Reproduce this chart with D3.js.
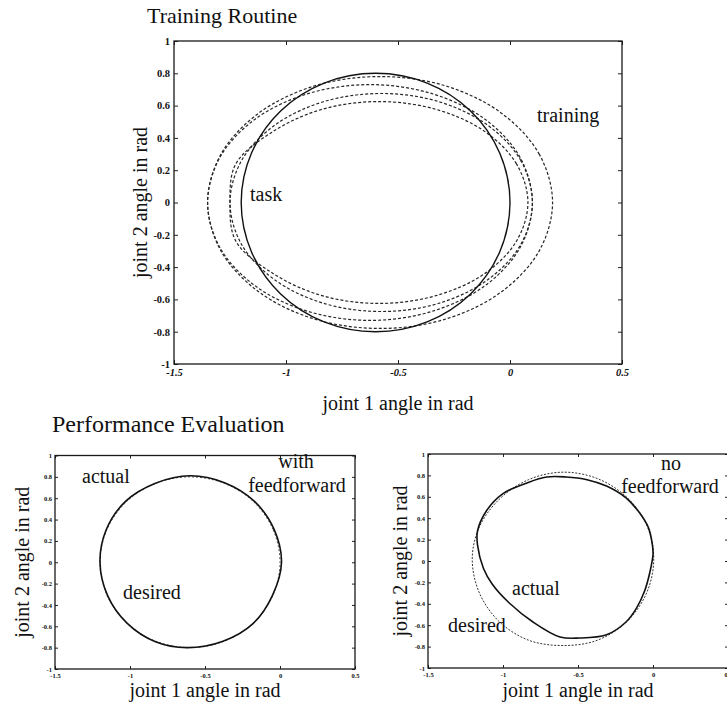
<!DOCTYPE html>
<html>
<head>
<meta charset="utf-8">
<script src="https://cdn.jsdelivr.net/npm/d3@7"></script>
<style>
  html, body { margin: 0; padding: 0; background: #fff; }
  svg { display: block; }
  text { font-family: "Liberation Serif", "Times New Roman", serif; fill: #111; }
</style>
</head>
<body>
<svg id="fig" width="727" height="709"></svg>
<script>
// ---- axis ranges and ticks (joint angles, rad) ----
const xTicks = [-1.5, -1, -0.5, 0, 0.5];
const yTicks = [-1, -0.8, -0.6, -0.4, -0.2, 0, 0.2, 0.4, 0.6, 0.8, 1];

// ---- task trajectory (desired circle in joint space) [joint1, joint2] ----
const taskPath = [
  [0.0, 0.0], [-0.046, 0.306], [-0.176, 0.566], [-0.37, 0.739], [-0.6, 0.8],
  [-0.83, 0.739], [-1.024, 0.566], [-1.154, 0.306], [-1.2, 0.0],
  [-1.154, -0.306], [-1.024, -0.566], [-0.83, -0.739], [-0.6, -0.8],
  [-0.37, -0.739], [-0.176, -0.566], [-0.046, -0.306]
];

// ---- training trajectories ----
const training1 = [
  [0.19, 0.0], [0.131, 0.298], [-0.036, 0.551], [-0.285, 0.721], [-0.58, 0.78],
  [-0.875, 0.721], [-1.124, 0.551], [-1.291, 0.298], [-1.35, 0.0],
  [-1.291, -0.298], [-1.124, -0.551], [-0.875, -0.721], [-0.58, -0.78],
  [-0.285, -0.721], [-0.036, -0.551], [0.131, -0.298]
];
const training2 = [
  [0.1, 0.0], [0.045, 0.279], [-0.112, 0.516], [-0.348, 0.674], [-0.625, 0.73],
  [-0.902, 0.674], [-1.138, 0.516], [-1.295, 0.279], [-1.35, 0.0],
  [-1.295, -0.279], [-1.138, -0.516], [-0.902, -0.674], [-0.625, -0.73],
  [-0.348, -0.674], [-0.112, -0.516], [0.045, -0.279]
];
const training3 = [
  [0.1, 0.0], [0.049, 0.258], [-0.098, 0.477], [-0.317, 0.624], [-0.575, 0.675],
  [-0.833, 0.624], [-1.052, 0.477], [-1.199, 0.258], [-1.25, 0.0],
  [-1.199, -0.258], [-1.052, -0.477], [-0.833, -0.624], [-0.575, -0.675],
  [-0.317, -0.624], [-0.098, -0.477], [0.049, -0.258]
];
const training4 = [
  [0.08, 0.0], [0.029, 0.239], [-0.115, 0.442], [-0.331, 0.577], [-0.585, 0.625],
  [-0.839, 0.577], [-1.055, 0.442], [-1.224, 0.239], [-1.25, 0.0],
  [-1.224, -0.239], [-1.055, -0.442], [-0.839, -0.577], [-0.585, -0.625],
  [-0.331, -0.577], [-0.115, -0.442], [0.029, -0.239]
];

// ---- performance with feedforward ----
const actualWithFF = [
  [0.01, 0.0], [-0.04, 0.31], [-0.17, 0.57], [-0.37, 0.745], [-0.6, 0.81],
  [-0.83, 0.74], [-1.03, 0.57], [-1.16, 0.3], [-1.2, 0.0],
  [-1.15, -0.31], [-1.02, -0.57], [-0.83, -0.745], [-0.62, -0.8],
  [-0.38, -0.74], [-0.18, -0.575], [-0.05, -0.31]
];

// ---- performance without feedforward ----
const desiredNoFF = [
  [0.005, 0.02], [-0.04, 0.33], [-0.17, 0.59], [-0.37, 0.77], [-0.6, 0.83],
  [-0.83, 0.76], [-1.03, 0.57], [-1.16, 0.31], [-1.205, 0.02],
  [-1.16, -0.29], [-1.03, -0.56], [-0.83, -0.74], [-0.6, -0.79],
  [-0.37, -0.74], [-0.17, -0.56], [-0.04, -0.29]
];
const actualNoFF = [
  [0.0, 0.06], [-0.004, 0.15], [-0.03, 0.31], [-0.09, 0.45], [-0.18, 0.59],
  [-0.31, 0.7], [-0.44, 0.76], [-0.58, 0.785], [-0.71, 0.785], [-0.84, 0.73],
  [-1.0, 0.63], [-1.11, 0.47], [-1.17, 0.28], [-1.17, 0.15], [-1.13, -0.07],
  [-1.07, -0.22], [-0.96, -0.39], [-0.8, -0.57], [-0.62, -0.71], [-0.49, -0.72],
  [-0.31, -0.69], [-0.18, -0.57], [-0.11, -0.44], [-0.056, -0.28], [-0.02, -0.1]
];

const svg = d3.select("#fig");
const fmt = d => String(+(+d).toFixed(1));

// Draws one framed MATLAB-style panel with inward ticks on all four sides.
function panel(box, o) {
  const x = d3.scaleLinear().domain([-1.5, 0.5]).range([box.left, box.right]);
  const y = d3.scaleLinear().domain([-1, 1]).range([box.bottom, box.top]);
  const g = svg.append("g");

  const styleAxis = sel => {
    sel.select(".domain").remove();
    sel.selectAll(".tick line").attr("stroke", "#222").attr("stroke-width", 1);
    sel.selectAll(".tick text")
      .style("font-family", '"Liberation Serif", serif')
      .style("font-size", o.tickFont + "px")
      .style("font-weight", o.tickWeight)
      .attr("fill", "#111");
  };

  g.append("g").attr("transform", `translate(0,${box.bottom})`)
    .call(d3.axisBottom(x).tickValues(xTicks).tickFormat(fmt)
      .tickSizeInner(-o.tick).tickSizeOuter(0).tickPadding(o.xPad))
    .call(styleAxis)
    .selectAll(".tick text").style("font-style", o.xItalic ? "italic" : "normal");
  g.append("g").attr("transform", `translate(0,${box.top})`)
    .call(d3.axisTop(x).tickValues(xTicks).tickFormat("")
      .tickSizeInner(-o.tick).tickSizeOuter(0))
    .call(styleAxis);
  g.append("g").attr("transform", `translate(${box.left},0)`)
    .call(d3.axisLeft(y).tickValues(yTicks).tickFormat(fmt)
      .tickSizeInner(-o.tick).tickSizeOuter(0).tickPadding(o.yPad))
    .call(styleAxis);
  g.append("g").attr("transform", `translate(${box.right},0)`)
    .call(d3.axisRight(y).tickValues(yTicks).tickFormat("")
      .tickSizeInner(-o.tick).tickSizeOuter(0))
    .call(styleAxis);

  g.append("rect")
    .attr("x", box.left).attr("y", box.top)
    .attr("width", box.right - box.left).attr("height", box.bottom - box.top)
    .attr("fill", "none").attr("stroke", "#1a1a1a").attr("stroke-width", 1.3);

  const line = d3.line().x(d => x(d[0])).y(d => y(d[1]))
    .curve(d3.curveCatmullRomClosed.alpha(0.5));
  const curve = (data, stroke, width, dash) =>
    g.append("path").datum(data).attr("d", line)
      .attr("fill", "none").attr("stroke", stroke)
      .attr("stroke-width", width).attr("stroke-dasharray", dash || null);

  // axis titles
  g.append("text").attr("x", (box.left + box.right) / 2).attr("y", o.xLabelY)
    .attr("text-anchor", "middle").style("font-size", "20px")
    .text("joint 1 angle in rad");
  g.append("text")
    .attr("transform", `translate(${o.yLabelX},${(box.top + box.bottom) / 2}) rotate(-90)`)
    .attr("text-anchor", "middle").style("font-size", "20px")
    .text("joint 2 angle in rad");

  return { g, x, y, curve };
}

function label(txt, x, y, size, anchor) {
  svg.append("text").attr("x", x).attr("y", y)
    .attr("text-anchor", anchor || "start")
    .style("font-size", (size || 20) + "px").text(txt);
}

// ---------- Training Routine ----------
const trainPanel = panel({ left: 174, right: 622, top: 41, bottom: 364 },
  { tick: 4, tickFont: 10.5, tickWeight: "bold", xPad: 5, yPad: 4, xItalic: true,
    xLabelY: 410, yLabelX: 147 });
trainPanel.curve(training1, "#262626", 1.2, "3,2");
trainPanel.curve(training2, "#262626", 1.2, "3,2");
trainPanel.curve(training3, "#262626", 1.2, "3,2");
trainPanel.curve(training4, "#262626", 1.2, "3,2");
trainPanel.curve(taskPath, "#111", 1.4);

label("Training Routine", 147, 23, 22);
label("training", 537, 122);
label("task", 250, 201);

// ---------- Performance Evaluation ----------
label("Performance Evaluation", 52, 432, 24);

const withFFPanel = panel({ left: 55, right: 355, top: 455.5, bottom: 669 },
  { tick: 3, tickFont: 6.5, tickWeight: "bold", xPad: 4, yPad: 3, xItalic: false,
    xLabelY: 697, yLabelX: 29 });
withFFPanel.curve(taskPath, "#555", 1, "2,2");
withFFPanel.curve(actualWithFF, "#111", 1.6);
label("actual", 82, 483);
label("with", 296, 468, 20, "middle");
label("feedforward", 297, 492, 20, "middle");
label("desired", 123, 599);

const noFFPanel = panel({ left: 428, right: 728, top: 454, bottom: 668 },
  { tick: 3, tickFont: 6.5, tickWeight: "bold", xPad: 4, yPad: 3, xItalic: false,
    xLabelY: 697, yLabelX: 407 });
noFFPanel.curve(desiredNoFF, "#333", 1, "2,1.5");
noFFPanel.curve(actualNoFF, "#111", 1.6);
label("no", 671, 470, 20, "middle");
label("feedforward", 670, 493, 20, "middle");
label("actual", 512, 595);
label("desired", 448, 632);
</script>
</body>
</html>
